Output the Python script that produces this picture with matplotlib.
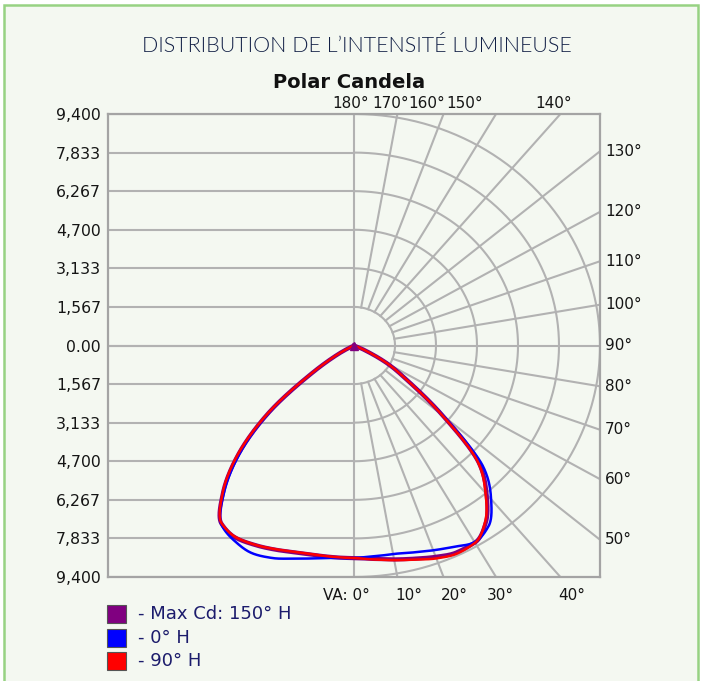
import numpy as np
import matplotlib
matplotlib.use("Agg")
import matplotlib.pyplot as plt
from matplotlib.patches import Rectangle

# ---------------- data ----------------
angles = [0, 5, 10, 15, 20, 25, 30, 35, 40, 45, 50, 55, 60, 65, 70, 75, 80, 85, 90]

max_cd_right = [8630, 8700, 8820, 8960, 9130, 9270, 9240, 8780, 7880, 6750, 4420, 2550, 1500, 460, 0, 0, 0, 0, 0]
max_cd_left = [8630, 8630, 8640, 8700, 8820, 8940, 9020, 8830, 7780, 6250, 4280, 1980, 680, 0, 0, 0, 0, 0, 0]

h0_right = [8630, 8590, 8600, 8700, 8850, 9020, 9220, 8960, 8150, 7000, 4500, 2600, 1550, 480, 0, 0, 0, 0, 0]
h0_left = [8630, 8660, 8780, 8960, 9180, 9290, 9150, 8850, 7700, 6150, 4200, 1950, 650, 0, 0, 0, 0, 0, 0]

h90_right = [8630, 8720, 8850, 9000, 9200, 9320, 9250, 8740, 7820, 6700, 4400, 2550, 1520, 480, 0, 0, 0, 0, 0]
h90_left = [8630, 8620, 8620, 8680, 8800, 8930, 9000, 8820, 7800, 6300, 4310, 2000, 700, 0, 0, 0, 0, 0, 0]

series_names = ["- Max Cd: 150\u00b0 H", "- 0\u00b0 H", "- 90\u00b0 H"]
series_colors = ["#800080", "#0000ff", "#ff0000"]

ytick_values = [9400, 7833, 6267, 4700, 3133, 1567, 0, -1567, -3133, -4700, -6267, -7833, -9400]
ytick_labels = ["9,400", "7,833", "6,267", "4,700", "3,133", "1,567", "0.00",
                "1,567", "3,133", "4,700", "6,267", "7,833", "9,400"]
ring_values = [1567, 3133, 4700, 6267, 7833, 9400]
radial_angles = [10, 20, 30, 40, 50, 60, 70, 80, 100, 110, 120, 130, 140, 150, 160, 170]
top_angles = [180, 170, 160, 150, 140]
right_angles = [130, 120, 110, 100, 90, 80, 70, 60, 50]
bottom_angles = [0, 10, 20, 30, 40]
RMAX = 9400

title_text = "DISTRIBUTION DE L\u2019INTENSIT\u00c9 LUMINEUSE"
chart_title = "Polar Candela"

# ---------------- style ----------------
W, H = 701, 681
BG = "#f4f8f1"
GREEN = "#97d283"
GRID = "#b2b2b2"
FRAME = "#a4a4a4"
TXT = "#151515"

fig = plt.figure(figsize=(W / 100, H / 100), dpi=100, facecolor="white")
fig.patches.append(Rectangle((4 / W, -0.1), (698 - 4) / W, (H - 5) / H + 0.1,
                             transform=fig.transFigure, facecolor=BG,
                             edgecolor=GREEN, lw=1.8, zorder=-5))

ax = fig.add_axes([108 / W, 1 - 577 / H, 492 / W, 463 / H])
ax.set_zorder(1)
ax.set_facecolor(BG)
ax.set_xlim(-RMAX, RMAX)
ax.set_ylim(-RMAX, RMAX)
for s in ax.spines.values():
    s.set_color(FRAME)
    s.set_linewidth(1.6)
ax.set_xticks([])
ax.set_yticks(ytick_values)
ax.set_yticklabels(ytick_labels, fontsize=11.3, color=TXT)
ax.tick_params(axis="y", length=0, pad=5)

glw = 1.5
for v in ytick_values:
    ax.plot([-RMAX, 0], [v, v], color=GRID, lw=glw, zorder=1)
ax.plot([0, 0], [-RMAX, RMAX], color=GRID, lw=glw, zorder=1)
ax.plot([-RMAX, RMAX], [0, 0], color=GRID, lw=glw, zorder=1)
t = np.radians(np.linspace(0, 180, 361))
for r in ring_values:
    ax.plot(r * np.sin(t), -r * np.cos(t), color=GRID, lw=glw, zorder=1)
for a in radial_angles:
    ar = np.radians(a)
    rr = np.array([ring_values[0], RMAX * 3])
    ax.plot(rr * np.sin(ar), -rr * np.cos(ar), color=GRID, lw=glw, zorder=1)

# angle labels
px = 0.72  # points per pixel
top_offsets = [-3, -7, -17, -31, -7]
for a, off in zip(top_angles, top_offsets):
    ar = np.radians(a)
    x = -RMAX * np.tan(ar) if a != 180 else 0.0
    ax.annotate(f"{a}\u00b0", xy=(x, RMAX), xytext=(off * px, 11 * px),
                textcoords="offset points", ha="center", va="center",
                fontsize=11, color=TXT, annotation_clip=False)
for a in right_angles:
    ar = np.radians(a)
    y = -RMAX * np.cos(ar) / np.sin(ar)
    ax.annotate(f"{a}\u00b0", xy=(RMAX, y), xytext=(5 * px, 0),
                textcoords="offset points", ha="left", va="center",
                fontsize=11, color=TXT, annotation_clip=False)
bottom_offsets = [0, -2, -3, -9, -2]
for a, off in zip(bottom_angles, bottom_offsets):
    ar = np.radians(a)
    x = RMAX * np.tan(ar)
    if a == 0:
        ax.annotate("VA: 0\u00b0", xy=(x, -RMAX), xytext=(16 * px, -18 * px),
                    textcoords="offset points", ha="right", va="center",
                    fontsize=11, color=TXT, annotation_clip=False)
    else:
        ax.annotate(f"{a}\u00b0", xy=(x, -RMAX), xytext=(off * px, -18 * px),
                    textcoords="offset points", ha="left", va="center",
                    fontsize=11, color=TXT, annotation_clip=False)


# smooth (monotone cubic) rendering of the polar curve
def pchip(xk, yk, xf):
    xk = np.asarray(xk, float)
    yk = np.asarray(yk, float)
    h = np.diff(xk)
    d = np.diff(yk) / h
    n = len(xk)
    m = np.zeros(n)
    m[0], m[-1] = d[0], d[-1]
    for k in range(1, n - 1):
        if d[k - 1] * d[k] <= 0:
            m[k] = 0.0
        else:
            w1 = 2 * h[k] + h[k - 1]
            w2 = h[k] + 2 * h[k - 1]
            m[k] = (w1 + w2) / (w1 / d[k - 1] + w2 / d[k])
    idx = np.clip(np.searchsorted(xk, xf) - 1, 0, n - 2)
    tt = (xf - xk[idx]) / h[idx]
    h00 = 2 * tt ** 3 - 3 * tt ** 2 + 1
    h10 = tt ** 3 - 2 * tt ** 2 + tt
    h01 = -2 * tt ** 3 + 3 * tt ** 2
    h11 = tt ** 3 - tt ** 2
    return (h00 * yk[idx] + h10 * h[idx] * m[idx] + h01 * yk[idx + 1]
            + h11 * h[idx] * m[idx + 1])


def curve(left, right):
    a = np.asarray(angles, float)
    full_a = np.concatenate([-a[::-1], a[1:]])
    full_r = np.concatenate([np.asarray(left, float)[::-1], np.asarray(right, float)[1:]])
    fa = np.linspace(-90, 90, 1441)
    fr = np.maximum(pchip(full_a, full_r, fa), 0)
    th = np.radians(fa)
    return fr * np.sin(th), -fr * np.cos(th)


x, y = curve(max_cd_left, max_cd_right)
ax.plot(x, y, color=series_colors[0], lw=3.0, zorder=3, solid_joinstyle="round")
x, y = curve(h0_left, h0_right)
ax.plot(x, y, color=series_colors[1], lw=1.8, zorder=4, solid_joinstyle="round")
x, y = curve(h90_left, h90_right)
ax.plot(x, y, color=series_colors[2], lw=1.8, zorder=5, solid_joinstyle="round")
ax.plot([0], [0], marker="^", color=series_colors[0], markersize=6, zorder=6)

# titles
fig.text(357 / W, 1 - 46 / H, title_text, ha="center", va="center",
         fontsize=15.5, color="#122046", family="Lato", fontweight=300)
fig.text(349 / W, 1 - 82 / H, chart_title, ha="center", va="center",
         fontsize=14, color="#111111", fontweight="bold")

# legend
legend_y = [614, 638, 661]
for name, col, yc in zip(series_names, series_colors, legend_y):
    fig.patches.append(Rectangle((107 / W, 1 - (yc + 9) / H), 19 / W, 18 / H,
                                 transform=fig.transFigure, facecolor=col,
                                 edgecolor="#555555", lw=0.8, zorder=2))
    fig.text(138 / W, 1 - yc / H, name, ha="left", va="center",
             fontsize=13, color="#1c1c6c")

fig.savefig("out.png", dpi=100, facecolor=fig.get_facecolor())
